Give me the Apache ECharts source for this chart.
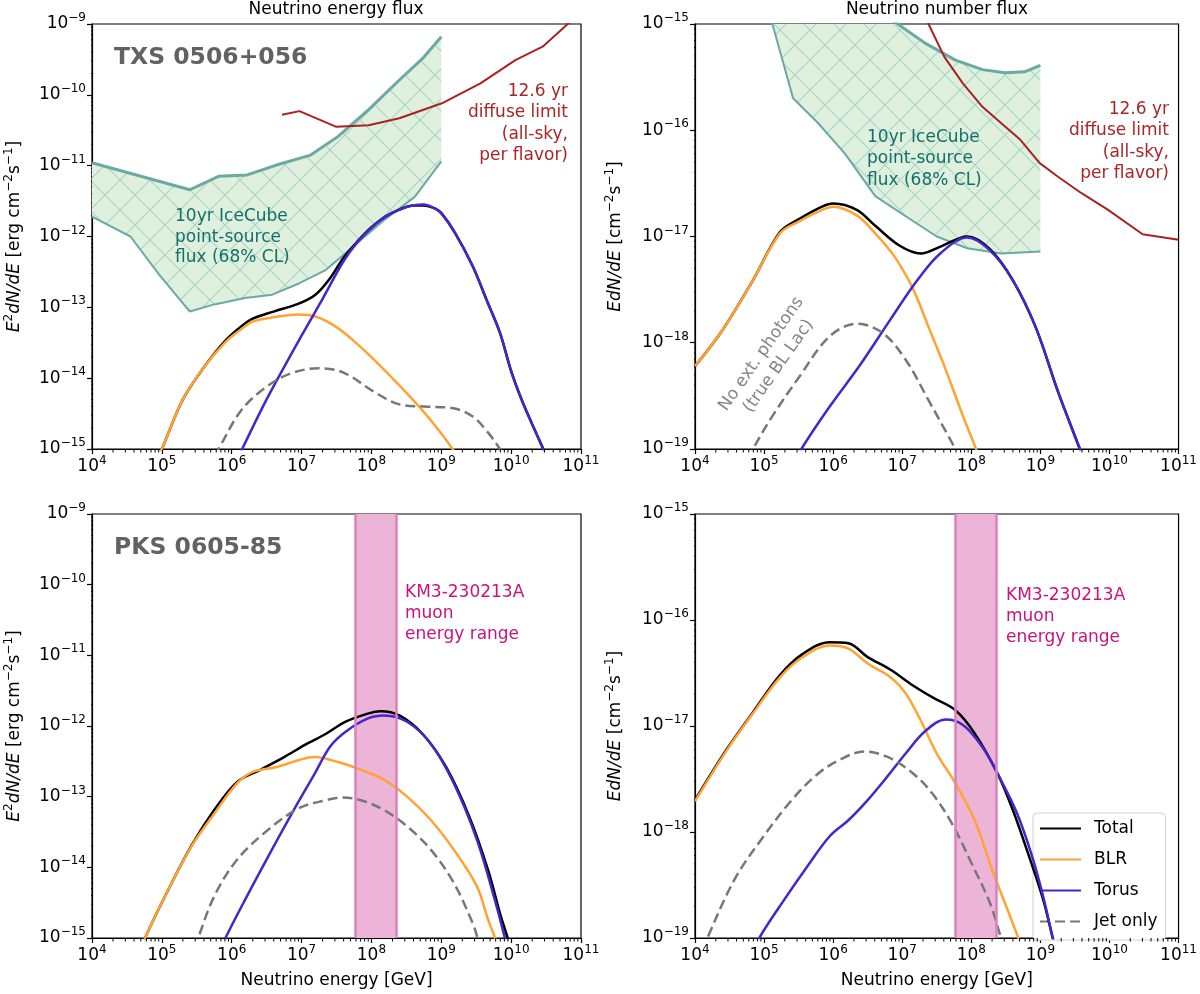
<!DOCTYPE html>
<html>
<head>
<meta charset="utf-8">
<script src="https://cdn.jsdelivr.net/npm/echarts@6.0.0/dist/echarts.min.js"></script>
<style>
  html, body { margin: 0; padding: 0; background: #fff; }
  #chart { width: 1200px; height: 994px; }
</style>
</head>
<body>
<div id="chart"></div>
<script>
// values: [neutrino energy (GeV), flux]

// TXS 0506+056, energy flux E^2 dN/dE
const txsE_total = [
  [7.94e4, 6.31e-16], [1e5, 1e-15], [2e5, 5.01e-15], [3.98e5, 1.41e-14], [7.94e5, 3.31e-14],
  [1.41e6, 5.5e-14], [2e6, 6.92e-14], [3.98e6, 8.71e-14], [8.91e6, 1.12e-13], [1.58e7, 1.51e-13],
  [2.51e7, 2.51e-13], [3.98e7, 5.01e-13], [6.31e7, 8.51e-13], [1e8, 1.35e-12], [1.58e8, 1.91e-12],
  [2.51e8, 2.4e-12], [3.98e8, 2.75e-12], [5.62e8, 2.75e-12], [7.94e8, 2.51e-12], [1e9, 2.14e-12],
  [1.58e9, 1.12e-12], [2.82e9, 3.8e-13], [4.47e9, 1.26e-13], [6.92e9, 4.37e-14], [1e10, 1.26e-14],
  [1.41e10, 5.01e-15], [2e10, 2.24e-15], [2.88e10, 1e-15], [3.55e10, 6.31e-16]
];
const txsE_blr = [
  [7.94e4, 6.31e-16], [1e5, 1e-15], [2e5, 5.01e-15], [3.98e5, 1.41e-14], [7.94e5, 3.16e-14],
  [1.41e6, 5.01e-14], [2e6, 6.31e-14], [3.98e6, 7.24e-14], [8.91e6, 7.94e-14], [1.58e7, 7.41e-14],
  [3.16e7, 5.25e-14], [6.31e7, 3.02e-14], [1.26e8, 1.58e-14], [2.51e8, 7.94e-15], [5.01e8, 3.8e-15],
  [1e9, 1.66e-15], [1.58e9, 8.91e-16], [2e9, 6.31e-16]
];
const txsE_torus = [
  [1.26e6, 7.94e-16], [1.41e6, 1e-15], [3.16e6, 5.01e-15], [1e7, 3.98e-14], [2e7, 1.32e-13],
  [3.98e7, 4.47e-13], [6.31e7, 8.32e-13], [1e8, 1.32e-12], [1.58e8, 1.91e-12], [2.51e8, 2.4e-12],
  [3.98e8, 2.75e-12], [5.62e8, 2.82e-12], [7.94e8, 2.51e-12], [1e9, 2.14e-12], [1.58e9, 1.12e-12],
  [2.82e9, 3.8e-13], [4.47e9, 1.26e-13], [6.92e9, 4.37e-14], [1e10, 1.26e-14], [1.41e10, 5.01e-15],
  [2e10, 2.24e-15], [2.88e10, 1e-15], [3.55e10, 6.31e-16]
];
const txsE_jet = [
  [5.62e5, 7.94e-16], [6.46e5, 1e-15], [1.38e6, 3.55e-15], [3.16e6, 7.59e-15], [7.08e6, 1.17e-14],
  [1.78e7, 1.38e-14], [3.98e7, 1.2e-14], [1.12e8, 6.31e-15], [2.51e8, 4.27e-15], [5.62e8, 3.98e-15],
  [1.41e9, 3.8e-15], [2.82e9, 2.88e-15], [4.68e9, 1.7e-15], [6.92e9, 1e-15], [7.94e9, 7.94e-16]
];
const txsE_iceUpper = [
  [1e4, 1.1e-11], [2.51e5, 4.57e-12], [6.46e5, 7.08e-12], [1.66e6, 7.41e-12], [4.37e6, 1.02e-11],
  [1.35e7, 1.41e-11], [3.31e7, 2.57e-11], [9.12e7, 6.17e-11], [2.51e8, 1.62e-10], [5.37e8, 3.24e-10],
  [1e9, 6.61e-10]
];
const txsE_iceLower = [
  [1e4, 1.91e-12], [3.55e4, 1e-12], [9.33e4, 2.82e-13], [1.58e5, 1.51e-13], [2.51e5, 8.71e-14],
  [5.62e5, 1.1e-13], [1.55e6, 1.35e-13], [3.8e6, 1.51e-13], [9.33e6, 2.19e-13], [2.24e7, 3.39e-13],
  [5.5e7, 7.24e-13], [1.51e8, 1.7e-12], [4.17e8, 3.63e-12], [1e9, 1.15e-11]
];
const txsE_diffuse = [
  [5.25e6, 5.25e-11], [9.33e6, 5.89e-11], [3.09e7, 3.55e-11], [9.12e7, 3.72e-11], [2.51e8, 4.68e-11],
  [1.02e9, 7.59e-11], [3.63e9, 1.45e-10], [1.15e10, 3.09e-10], [2.82e10, 4.79e-10], [6.46e10, 1e-9],
  [1e11, 1.58e-9]
];

// TXS 0506+056, number flux E dN/dE
const txsN_total = [
  [1e4, 6.03e-19], [2.51e4, 1.32e-18], [6.92e4, 3.89e-18], [1.7e5, 1.1e-17], [3.16e5, 1.45e-17],
  [6.92e5, 1.91e-17], [1e6, 2.04e-17], [2.19e6, 1.78e-17], [4.07e6, 1.26e-17], [9.33e6, 8.13e-18],
  [1.86e7, 6.92e-18], [3.72e7, 8.13e-18], [8.71e7, 1e-17], [1.86e8, 7.59e-18], [3.98e8, 3.89e-18],
  [8.51e8, 1.41e-18], [1.82e9, 3.39e-19], [3.72e9, 1e-19], [4.47e9, 7.08e-20]
];
const txsN_blr = [
  [1e4, 6.03e-19], [2.51e4, 1.32e-18], [6.92e4, 3.89e-18], [1.7e5, 1.07e-17], [3.16e5, 1.38e-17],
  [6.92e5, 1.78e-17], [1e6, 1.91e-17], [2.19e6, 1.58e-17], [4.07e6, 1.07e-17], [7.76e6, 6.46e-18],
  [1.45e7, 3.16e-18], [2.4e7, 1.41e-18], [4.07e7, 6.03e-19], [7.59e7, 2.04e-19], [1.17e8, 1e-19],
  [1.41e8, 7.08e-20]
];
const txsN_torus = [
  [3.02e5, 7.94e-20], [3.47e5, 1e-19], [8.91e5, 2.51e-19], [2.45e6, 6.17e-19], [6.76e6, 1.66e-18],
  [1.66e7, 3.89e-18], [3.55e7, 6.92e-18], [8.71e7, 9.77e-18], [1.86e8, 7.41e-18], [3.98e8, 3.89e-18],
  [8.51e8, 1.41e-18], [1.82e9, 3.39e-19], [3.72e9, 1e-19], [4.47e9, 7.08e-20]
];
const txsN_jet = [
  [6.03e4, 7.94e-20], [6.92e4, 1e-19], [1.32e5, 2.04e-19], [3.24e5, 4.79e-19], [8.91e5, 1.15e-18],
  [2.24e6, 1.51e-18], [5.25e6, 1.23e-18], [1.12e7, 6.92e-19], [2.4e7, 2.88e-19], [5.89e7, 1e-19],
  [7.08e7, 7.94e-20]
];
const txsN_iceUpper = [
  [1e5, 3.16e-14], [3.16e6, 1.58e-15], [2.14e7, 6.61e-16], [5.89e7, 4.57e-16], [1.45e8, 3.72e-16],
  [3.09e8, 3.47e-16], [5.89e8, 3.55e-16], [1e9, 4.07e-16]
];
const txsN_iceLower = [
  [1e5, 2.51e-15], [1.32e5, 1e-15], [2.63e5, 2e-16], [6.03e5, 1.17e-16], [1.48e6, 6.03e-17],
  [4.07e6, 2.4e-17], [1.12e7, 1.55e-17], [3.16e7, 1e-17], [8.71e7, 7.76e-18], [2.69e8, 6.92e-18],
  [1e9, 7.24e-18]
];
const txsN_diffuse = [
  [1.58e7, 2.51e-15], [2.4e7, 1e-15], [4.07e7, 4.9e-16], [7.59e7, 2.75e-16], [1.45e8, 1.66e-16],
  [2.69e8, 1.17e-16], [5.13e8, 8.13e-17], [9.77e8, 4.9e-17], [1.82e9, 3.63e-17], [3.89e9, 2.57e-17],
  [9.55e9, 1.78e-17], [3.02e10, 1.05e-17], [1e11, 9.33e-18]
];

// PKS 0605-85, energy flux
const pksE_total = [
  [5.01e4, 6.31e-16], [5.75e4, 1e-15], [1.23e5, 4.79e-15], [2.63e5, 2e-14], [5.62e5, 6.46e-14],
  [1.2e6, 1.62e-13], [2.57e6, 2.4e-13], [5.62e6, 3.63e-13], [1.2e7, 5.62e-13], [2.24e7, 7.76e-13],
  [4.27e7, 1.15e-12], [9.12e7, 1.51e-12], [1.35e8, 1.62e-12], [2.51e8, 1.41e-12], [5.37e8, 7.76e-13],
  [1.17e9, 2.63e-13], [2.51e9, 5.25e-14], [4.68e9, 9.12e-15], [6.92e9, 2.24e-15], [8.91e9, 1e-15],
  [1e10, 6.31e-16]
];
const pksE_blr = [
  [5.01e4, 6.31e-16], [5.75e4, 1e-15], [1.23e5, 4.79e-15], [2.63e5, 1.95e-14], [5.62e5, 5.75e-14],
  [1.2e6, 1.55e-13], [2e6, 2.24e-13], [4.37e6, 2.63e-13], [9.33e6, 3.31e-13], [1.55e7, 3.63e-13],
  [3.31e7, 3.09e-13], [7.08e7, 2.4e-13], [1.51e8, 1.74e-13], [3.24e8, 1e-13], [7.08e8, 4.68e-14],
  [1.51e9, 1.78e-14], [3.24e9, 5.37e-15], [4.68e9, 1.82e-15], [5.89e9, 1e-15], [6.61e9, 7.08e-16]
];
const pksE_torus = [
  [7.08e5, 7.08e-16], [8.13e5, 1e-15], [1.55e6, 3.47e-15], [3.31e6, 1.41e-14], [7.24e6, 5.75e-14],
  [1.55e7, 2.14e-13], [2.57e7, 5.13e-13], [4.27e7, 8.32e-13], [9.12e7, 1.29e-12], [1.51e8, 1.41e-12],
  [3.24e8, 1.15e-12], [7.08e8, 5.62e-13], [1.51e9, 1.55e-13], [3.24e9, 2.45e-14], [6.03e9, 3.09e-15],
  [8.13e9, 1e-15], [9.12e9, 6.31e-16]
];
const pksE_jet = [
  [2.95e5, 7.08e-16], [3.31e5, 1e-15], [5.62e5, 3.89e-15], [1.2e6, 1.29e-14], [3.31e6, 3.39e-14],
  [9.33e6, 6.92e-14], [2.24e7, 8.91e-14], [3.72e7, 9.77e-14], [7.08e7, 8.91e-14], [1.51e8, 6.46e-14],
  [3.24e8, 3.8e-14], [7.08e8, 1.78e-14], [1.51e9, 6.03e-15], [2.82e9, 1.62e-15], [3.31e9, 1e-15],
  [3.72e9, 7.08e-16]
];

// PKS 0605-85, number flux
const pksN_total = [
  [1e4, 2e-18], [2.88e4, 6.03e-18], [6.92e4, 1.35e-17], [1.7e5, 3.02e-17], [3.63e5, 4.79e-17],
  [8.91e5, 6.17e-17], [1.66e6, 6.03e-17], [3.16e6, 4.47e-17], [6.76e6, 3.39e-17], [1.45e7, 2.4e-17],
  [2.75e7, 1.86e-17], [5.89e7, 1.41e-17], [1.12e8, 8.51e-18], [2.4e8, 3.55e-18], [3.98e8, 1.62e-18],
  [6.61e8, 6.31e-19], [1.1e9, 2.29e-19], [1.51e9, 1e-19], [1.7e9, 7.59e-20]
];
const pksN_blr = [
  [1e4, 1.95e-18], [2.88e4, 5.89e-18], [6.92e4, 1.32e-17], [1.7e5, 2.88e-17], [3.63e5, 4.47e-17],
  [8.91e5, 5.75e-17], [1.66e6, 5.37e-17], [3.16e6, 3.89e-17], [6.76e6, 2.88e-17], [1.12e7, 2.04e-17],
  [1.86e7, 1.12e-17], [3.16e7, 5.5e-18], [5.89e7, 2.88e-18], [1.12e8, 1.29e-18], [2.09e8, 4.07e-19],
  [3.47e8, 1.74e-19], [4.79e8, 1e-19], [5.62e8, 7.59e-20]
];
const pksN_torus = [
  [7.59e4, 7.94e-20], [8.51e4, 1e-19], [1.95e5, 2.29e-19], [4.17e5, 4.68e-19], [8.91e5, 9.12e-19],
  [1.66e6, 1.29e-18], [3.16e6, 2e-18], [6.03e6, 3.31e-18], [1.12e7, 5.5e-18], [2.14e7, 8.91e-18],
  [4.27e7, 1.15e-17], [7.59e7, 1.02e-17], [1.45e8, 6.31e-18], [2.4e8, 3.55e-18], [4.57e8, 1.51e-18],
  [7.59e8, 5.89e-19], [1.1e9, 2.45e-19], [1.51e9, 1e-19], [1.7e9, 7.59e-20]
];
const pksN_jet = [
  [1.32e4, 7.59e-20], [1.51e4, 1e-19], [3.72e4, 3.55e-19], [9.12e4, 8.51e-19], [2.51e5, 2e-18],
  [6.03e5, 3.55e-18], [1.32e6, 4.9e-18], [2.82e6, 5.75e-18], [6.03e6, 5.13e-18], [1.45e7, 3.55e-18],
  [2.75e7, 2.29e-18], [5.25e7, 1.2e-18], [1e8, 5.13e-19], [1.86e8, 2.14e-19], [2.69e8, 1e-19],
  [3.02e8, 7.59e-20]
];

// KM3-230213A muon energy range (GeV)
const km3Range = [5.9e7, 2.3e8];

// axis ranges (decade exponents)
const xDecades = [4, 11];
const yDecadesEnergy = [-15, -9];
const yDecadesNumber = [-19, -15];
const minorMultipliers = [2, 3, 4, 5, 6, 7, 8, 9];
const legendNames = ['Total', 'BLR', 'Torus', 'Jet only'];

const FONT = 'DejaVu Sans';
const C = {
  total: '#000000', blr: '#ffa333', torus: '#4426cc', jet: '#777777',
  iceEdge: '#6aa9a4', iceFill: '#dff0dc', iceHatch: '#a9d3c8',
  diffuse: '#a82222', km3Fill: '#ecb5d8', km3Edge: '#d983bd'
};
const MINOR_LEN = 3.5; // px

// hatch pattern for the IceCube band (drawn at device resolution)
function hatchPattern() {
  const dpr = window.devicePixelRatio || 1;
  const s = Math.round(30 * dpr);
  const cv = document.createElement('canvas');
  cv.width = s; cv.height = s;
  const ctx = cv.getContext('2d');
  ctx.fillStyle = C.iceFill;
  ctx.fillRect(0, 0, s, s);
  ctx.strokeStyle = C.iceHatch;
  ctx.lineWidth = 1.1 * dpr;
  ctx.beginPath();
  ctx.moveTo(0, 0); ctx.lineTo(s, s);
  ctx.moveTo(s, 0); ctx.lineTo(0, s);
  ctx.stroke();
  return { image: cv, repeat: 'repeat' };
}
const hatch = hatchPattern();

function expLabel(v) {
  const e = Math.round(Math.log10(v));
  return '{b|10}{s|' + String(e).replace('-', '\u2212') + '}';
}
const tickRich = {
  b: { fontSize: 17, fontFamily: FONT, color: '#000', lineHeight: 24 },
  s: { fontSize: 12, fontFamily: FONT, color: '#000', lineHeight: 14, verticalAlign: 'top' }
};
const nameRich = {
  i: { fontSize: 17, fontFamily: FONT, fontStyle: 'italic', color: '#000', lineHeight: 24 },
  n: { fontSize: 17, fontFamily: FONT, color: '#000', lineHeight: 24 },
  s: { fontSize: 12, fontFamily: FONT, color: '#000', lineHeight: 14, verticalAlign: 'top' }
};
const yNameEnergy = '{i|E}{s|2}{i|dN/dE} {n|[erg cm}{s|\u22122}{n|s}{s|\u22121}{n|]}';
const yNameNumber = '{i|EdN/dE} {n|[cm}{s|\u22122}{n|s}{s|\u22121}{n|]}';

const panels = [
  { grid: { left: 92, top: 24, width: 489, height: 425 }, y: yDecadesEnergy, yName: yNameEnergy, nameGap: 65, xName: false,
    total: txsE_total, blr: txsE_blr, torus: txsE_torus, jet: txsE_jet,
    iceUp: txsE_iceUpper, iceLow: txsE_iceLower, diffuse: txsE_diffuse },
  { grid: { left: 695, top: 24, width: 485, height: 425 }, y: yDecadesNumber, yName: yNameNumber, nameGap: 67, xName: false,
    total: txsN_total, blr: txsN_blr, torus: txsN_torus, jet: txsN_jet,
    iceUp: txsN_iceUpper, iceLow: txsN_iceLower, diffuse: txsN_diffuse },
  { grid: { left: 92, top: 514, width: 489, height: 424 }, y: yDecadesEnergy, yName: yNameEnergy, nameGap: 65, xName: true,
    total: pksE_total, blr: pksE_blr, torus: pksE_torus, jet: pksE_jet, km3: true },
  { grid: { left: 695, top: 514, width: 485, height: 424 }, y: yDecadesNumber, yName: yNameNumber, nameGap: 67, xName: true,
    total: pksN_total, blr: pksN_blr, torus: pksN_torus, jet: pksN_jet, km3: true }
];

const grids = [], xAxes = [], yAxes = [], series = [];

function minorValues(d0, d1) {
  const out = [];
  for (let n = d0; n < d1; n++) minorMultipliers.forEach(k => out.push(k * Math.pow(10, n)));
  return out;
}

panels.forEach((p, i) => {
  grids.push(Object.assign({ show: true, borderColor: '#000', borderWidth: 1.2, backgroundColor: 'transparent' }, p.grid));
  const xMin = Math.pow(10, xDecades[0]), xMax = Math.pow(10, xDecades[1]);
  const yMin = Math.pow(10, p.y[0]), yMax = Math.pow(10, p.y[1]);
  xAxes.push({
    type: 'log', logBase: 10, gridIndex: i, min: xMin, max: xMax, position: 'bottom',
    axisLine: { onZero: false, lineStyle: { color: '#000', width: 1.2 } },
    axisTick: { length: 5, lineStyle: { color: '#000', width: 1.2 } },
    splitLine: { show: false }, minorTick: { show: false },
    axisLabel: { margin: 6, formatter: expLabel, rich: tickRich },
    name: p.xName ? 'Neutrino energy [GeV]' : '', nameLocation: 'middle', nameGap: 34,
    nameTextStyle: { fontSize: 17, fontFamily: FONT, color: '#000' }
  });
  yAxes.push({
    type: 'log', logBase: 10, gridIndex: i, min: yMin, max: yMax, position: 'left',
    axisLine: { onZero: false, lineStyle: { color: '#000', width: 1.2 } },
    axisTick: { length: 5, lineStyle: { color: '#000', width: 1.2 } },
    splitLine: { show: false }, minorTick: { show: false },
    axisLabel: { margin: 6, formatter: expLabel, rich: tickRich },
    name: p.yName, nameLocation: 'middle', nameGap: p.nameGap,
    nameTextStyle: { fontSize: 17, fontFamily: FONT, color: '#000', rich: nameRich }
  });

  const base = { type: 'line', xAxisIndex: i, yAxisIndex: i, showSymbol: false, symbol: 'none', clip: true, silent: true };

  if (p.iceUp) {
    const poly = p.iceUp.concat(p.iceLow.slice().reverse());
    series.push({
      type: 'custom', xAxisIndex: i, yAxisIndex: i, clip: true, silent: true, z: 1,
      data: [poly[0]],
      renderItem: (params, api) => ({
        type: 'polygon',
        shape: { points: poly.map(pt => api.coord(pt)) },
        style: { fill: hatch, stroke: 'none' }
      })
    });
    series.push(Object.assign({}, base, { name: 'ice upper', data: p.iceUp, lineStyle: { color: C.iceEdge, width: 3 }, z: 2 }));
    series.push(Object.assign({}, base, { name: 'ice lower', data: p.iceLow, lineStyle: { color: C.iceEdge, width: 2 }, z: 2 }));
    series.push(Object.assign({}, base, { name: 'diffuse', data: p.diffuse, lineStyle: { color: C.diffuse, width: 2 }, z: 3 }));
  }
  if (p.km3) {
    series.push(Object.assign({}, base, {
      name: 'km3', data: [], z: 1,
      markArea: { silent: true, itemStyle: { color: C.km3Fill }, data: [[{ xAxis: km3Range[0] }, { xAxis: km3Range[1] }]] },
      markLine: { silent: true, symbol: 'none', label: { show: false }, animation: false,
        lineStyle: { color: C.km3Edge, width: 2.5, type: 'solid' },
        data: [{ xAxis: km3Range[0] }, { xAxis: km3Range[1] }] }
    }));
  }
  series.push(Object.assign({}, base, { name: 'Total', data: p.total, smooth: 0.35, lineStyle: { color: C.total, width: 2.5 }, itemStyle: { color: C.total }, z: 4 }));
  series.push(Object.assign({}, base, { name: 'BLR', data: p.blr, smooth: 0.35, lineStyle: { color: C.blr, width: 2.5 }, itemStyle: { color: C.blr }, z: 4 }));
  series.push(Object.assign({}, base, { name: 'Torus', data: p.torus, smooth: 0.35, lineStyle: { color: C.torus, width: 2.5 }, itemStyle: { color: C.torus }, z: 4 }));
  series.push(Object.assign({}, base, { name: 'Jet only', data: p.jet, smooth: 0.35, lineStyle: { color: C.jet, width: 2.5, type: [10, 5] }, itemStyle: { color: C.jet }, z: 4 }));

  // log minor ticks (2..9 x 10^n) as short broken line segments on the log axes, pointing outward
  const xFactor = Math.pow(10, MINOR_LEN * (xDecades[1] - xDecades[0]) / p.grid.width);
  const yFactor = Math.pow(10, MINOR_LEN * (p.y[1] - p.y[0]) / p.grid.height);
  const xTickPts = [];
  minorValues(xDecades[0], xDecades[1]).forEach(v => {
    xTickPts.push([v, yMin], [v, yMin / yFactor], [v, '-']);
  });
  const yTickPts = [];
  minorValues(p.y[0], p.y[1]).forEach(v => {
    yTickPts.push([xMin, v], [xMin / xFactor, v], ['-', v]);
  });
  [xTickPts, yTickPts].forEach(pts => {
    series.push({
      type: 'line', xAxisIndex: i, yAxisIndex: i, data: pts, clip: false, silent: true,
      showSymbol: false, symbol: 'none', connectNulls: false, z: 6,
      lineStyle: { color: '#000', width: 1, cap: 'butt' }
    });
  });
});

function txt(x, y, text, o) {
  return { type: 'text', x: x, y: y, silent: true, z: 50,
    style: Object.assign({ text: text, fontFamily: FONT, fontSize: 17, fill: '#000', align: 'left', verticalAlign: 'top', lineHeight: 21 }, o || {}) };
}

const graphics = [
  txt(336, 10, 'Neutrino energy flux', { align: 'center', verticalAlign: 'middle' }),
  txt(937, 10, 'Neutrino number flux', { align: 'center', verticalAlign: 'middle' }),
  txt(114, 58, 'TXS 0506+056', { fontSize: 23.5, fontWeight: 'bold', fill: '#626262', verticalAlign: 'middle' }),
  txt(114, 548, 'PKS 0605-85', { fontSize: 23.5, fontWeight: 'bold', fill: '#626262', verticalAlign: 'middle' }),
  txt(175, 206.5, '10yr IceCube\npoint-source\nflux (68% CL)', { fill: '#12706b', lineHeight: 20.5 }),
  txt(867, 126.5, '10yr IceCube\npoint-source\nflux (68% CL)', { fill: '#12706b', lineHeight: 21.5 }),
  txt(568, 80.5, '12.6 yr\ndiffuse limit\n(all-sky,\nper flavor)', { fill: '#ab2525', align: 'right', lineHeight: 21.5 }),
  txt(1169, 98.5, '12.6 yr\ndiffuse limit\n(all-sky,\nper flavor)', { fill: '#ab2525', align: 'right', lineHeight: 21.5 }),
  txt(405, 582.5, 'KM3-230213A\nmuon\nenergy range', { fill: '#c8137f', lineHeight: 21 }),
  txt(1006, 585.5, 'KM3-230213A\nmuon\nenergy range', { fill: '#c8137f', lineHeight: 21 }),
  Object.assign(txt(0, 0, 'No ext. photons\n(true BL Lac)', { fill: '#858585', align: 'center', verticalAlign: 'middle', lineHeight: 21 }),
    { x: 770, y: 360, rotation: 55 * Math.PI / 180 })
];

const chart = echarts.init(document.getElementById('chart'), null, { renderer: 'canvas' });
chart.setOption({
  backgroundColor: '#fff',
  animation: false,
  textStyle: { fontFamily: FONT },
  grid: grids,
  xAxis: xAxes,
  yAxis: yAxes,
  legend: {
    data: legendNames, orient: 'vertical', left: 1033, top: 813,
    itemWidth: 41, itemHeight: 14, itemGap: 14,
    padding: [7, 8, 10, 6],
    itemStyle: { opacity: 0 },
    backgroundColor: '#fff', borderColor: '#d0d0d0', borderWidth: 1, borderRadius: 4,
    textStyle: { fontSize: 17, fontFamily: FONT, color: '#000', padding: [0, 0, 0, 8] },
    selectedMode: false
  },
  series: series,
  graphic: graphics
});
</script>
</body>
</html>
